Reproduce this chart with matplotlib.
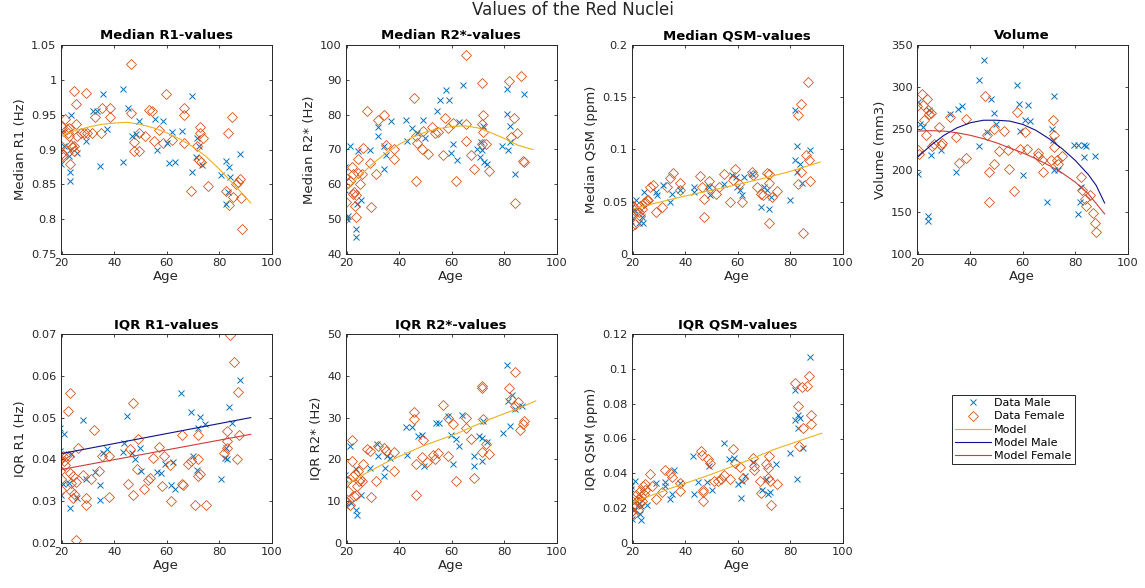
import numpy as np
import matplotlib
matplotlib.use("Agg")
import matplotlib.pyplot as plt
from matplotlib.ticker import FuncFormatter
from matplotlib.lines import Line2D

# ---------------- data ----------------
# Median R1
r1_m_age = [19.4, 19.6, 20, 21, 22.6, 23.2, 23.6, 23.2, 23.2, 25.8, 29.4, 32, 33.5, 34.6, 35.7, 37.4,
            43.5, 43.5, 45.2, 46.8, 48.4, 49.4, 55.5, 56.4, 58.7, 60, 61, 62.2, 63.2, 65.8, 69.7,
            69.7, 71, 71.6, 72.3, 73.5, 80.6, 82.6, 82.6, 83.2, 83.9, 84.2, 88]
r1_m_val = [0.923, 0.879, 0.925, 0.905, 0.890, 0.900, 0.949, 0.855, 0.868, 0.895, 0.912, 0.955, 0.955,
            0.876, 0.979, 0.930, 0.987, 0.882, 0.959, 0.920, 0.922, 0.941, 0.944, 0.900, 0.941, 0.910,
            0.880, 0.925, 0.882, 0.927, 0.977, 0.868, 0.889, 0.917, 0.905, 0.878, 0.864, 0.883, 0.822,
            0.839, 0.875, 0.860, 0.893]
r1_f_age = [20, 19.7, 20, 20.3, 20.6, 21.3, 21.9, 22.3, 22.6, 22.8, 23.5, 23.2, 23.8, 24.5, 24.5, 24.8,
            25.5, 25.5, 26, 27.5, 28.4, 29.4, 29.7, 31.6, 32.6, 34.8, 35.5, 38.3, 38.5, 46.5, 46.5,
            47.7, 47.5, 49.4, 49.4, 51.9, 53.2, 54.2, 55.2, 57.2, 58.7, 59.6, 62, 66.5, 66.5, 66.5,
            69.4, 71.6, 72.5, 72.5, 72.3, 72.9, 73.8, 75.9, 83.2, 84.8, 83.6, 85.2, 87.1, 88, 88.4,
            88.5, 82.6, 86.5]
r1_f_val = [0.932, 0.905, 0.895, 0.889, 0.892, 0.944, 0.929, 0.923, 0.931, 0.920, 0.906, 0.879, 0.903,
            0.984, 0.898, 0.905, 0.965, 0.936, 0.920, 0.923, 0.923, 0.981, 0.923, 0.923, 0.947, 0.923,
            0.959, 0.959, 0.947, 1.023, 0.953, 0.911, 0.898, 0.898, 0.923, 0.919, 0.957, 0.955, 0.912,
            0.928, 0.910, 0.980, 0.913, 0.959, 0.950, 0.909, 0.841, 0.905, 0.932, 0.923, 0.885, 0.882,
            0.917, 0.847, 0.923, 0.947, 0.820, 0.832, 0.853, 0.857, 0.831, 0.786, 0.841, 0.850]
r1_model_age = [20, 25, 30, 35, 40, 45, 50, 55, 60, 65, 70, 75, 80, 85, 90, 92]
r1_model_val = [0.920, 0.927, 0.932, 0.936, 0.938, 0.939, 0.936, 0.931, 0.924, 0.915, 0.904, 0.890,
                0.872, 0.852, 0.832, 0.823]

# Median R2*
r2_m_age = [19.4, 19.4, 20, 20.6, 21.3, 23.4, 23.4, 23.8, 24.2, 25.4, 28.8, 32, 32, 34.1, 34.2, 35.1,
            37, 42.7, 42.9, 44.9, 46.8, 49, 49.8, 54.4, 55.6, 57.8, 58.8, 59.7, 60.5, 61.9, 62.8, 64.3,
            69.7, 70.6, 71, 71.6, 71.9, 72.3, 73.5, 79.2, 81.1, 81.1, 81.5, 82.3, 82.3, 84, 87.4]
r2_m_val = [65, 58.3, 50.1, 51, 70.9, 47.2, 45, 54.4, 69.5, 55.4, 69.8, 76.5, 73.8, 64.5, 70.9, 68.3,
            78.1, 78.6, 72.5, 76.3, 74.8, 78.6, 73.4, 81.1, 84.2, 87.2, 84.2, 69, 71.7, 66.9, 77.9, 88.5,
            70.2, 67.8, 72.2, 69.8, 76.7, 66.4, 65.9, 70.9, 87.5, 80.1, 69.8, 76.7, 72.2, 62.9, 85.9]
r2_f_age = [19.4, 19.4, 19.6, 20.6, 21.3, 22.1, 22.5, 22.5, 22.8, 23.1, 23.4, 23.5, 24.4, 24.4, 25, 25.7,
            26.3, 27.9, 28.8, 29.1, 31.1, 32, 34.1, 35.1, 37.9, 37.9, 45.6, 46.4, 46.2, 46.8, 48.7, 49,
            50.9, 52.5, 53.8, 54.6, 56.5, 57.5, 58.7, 60.3, 61.6, 65.3, 65.3, 65.6, 67.2, 68.5, 71.4,
            71.9, 71.6, 71.6, 71.9, 72.9, 74.2, 82, 82.7, 83.6, 84.9, 84.2, 86.4, 87.1, 87.4]
r2_f_val = [50.1, 62.1, 54.9, 60.4, 61, 65, 63.1, 57.3, 57.8, 53.9, 50.6, 56.8, 63.3, 67.4, 60.2, 62.9,
            70.4, 81.1, 66.1, 53.6, 63.1, 78.4, 79.8, 71.2, 70.1, 67.4, 84.9, 61.1, 73.8, 71.9, 70.1,
            75.2, 68.8, 76.5, 74.6, 75.1, 68.3, 79.1, 76.3, 77.7, 61.1, 97.1, 72.5, 77.4, 68.3, 64.5,
            71.5, 79.8, 89.2, 77.4, 75.0, 71.7, 63.8, 89.7, 73.6, 78.9, 74.6, 54.6, 91.1, 66.6, 66.4]
r2_model_age = [20, 25, 30, 35, 40, 45, 50, 55, 60, 65, 70, 75, 80, 85, 88, 91]
r2_model_val = [58.5, 62.5, 66, 69, 71.5, 73.5, 75, 76, 76.6, 76.8, 76.2, 74.8, 73.2, 71.3, 70.6, 70.0]

# Median QSM
qsm_m_age = [19, 19.2, 19.6, 20.5, 21.3, 22.2, 23.4, 24.1, 23.8, 28.9, 29.4, 31.7, 34.3, 34.9, 38.1,
             43.2, 43.5, 49, 49.6, 54.7, 57.9, 59.2, 59.8, 60.8, 61.7, 62.3, 65.5, 68.7, 70, 71, 71.9,
             72.6, 80, 81.9, 81.7, 82.5, 82.5, 83.8, 84.4, 87.6]
qsm_m_val = [0.0384, 0.032, 0.0448, 0.0422, 0.0512, 0.0294, 0.0358, 0.0592, 0.0294, 0.0592, 0.056,
             0.0656, 0.0496, 0.0576, 0.0608, 0.064, 0.0592, 0.064, 0.056, 0.0672, 0.0752, 0.0736, 0.064,
             0.0608, 0.056, 0.0736, 0.0768, 0.0448, 0.064, 0.0608, 0.0432, 0.055, 0.0512, 0.1376, 0.0896,
             0.103, 0.0784, 0.0864, 0.068, 0.0992]
qsm_f_age = [19, 19.2, 19.4, 20, 20.5, 21, 21.5, 22.2, 22.6, 22.8, 23.4, 24.1, 24.7, 25.4, 26, 26.6,
             27.9, 28.9, 31.1, 33, 34.3, 35.3, 37.9, 38.1, 45.8, 46.4, 47, 47, 49, 49.3, 51.9, 52.8,
             54.7, 57, 58.3, 58.8, 60.4, 61.7, 65.5, 65.9, 67.4, 68.7, 69.7, 71.3, 71.9, 71.9, 71.9,
             73.2, 75.1, 82.8, 84, 86.8, 82.8, 84, 85.9, 87.2, 87.6, 84.7]
qsm_f_val = [0.0486, 0.0256, 0.0352, 0.039, 0.0448, 0.0288, 0.0416, 0.04, 0.0368, 0.0464, 0.0432,
             0.0486, 0.0496, 0.0512, 0.0512, 0.064, 0.0656, 0.04, 0.0454, 0.064, 0.073, 0.0774, 0.0678,
             0.0608, 0.0742, 0.064, 0.0528, 0.0358, 0.0698, 0.0634, 0.0576, 0.064, 0.0762, 0.0496,
             0.071, 0.0816, 0.0672, 0.0496, 0.0784, 0.0752, 0.064, 0.0576, 0.056, 0.0774, 0.0762,
             0.0678, 0.0294, 0.055, 0.0602, 0.1328, 0.144, 0.1648, 0.0672, 0.0784, 0.0944, 0.09,
             0.0698, 0.0198]
qsm_model_age = [20, 30, 40, 50, 60, 70, 80, 91.4]
qsm_model_val = [0.0432, 0.0495, 0.0555, 0.061, 0.0665, 0.0725, 0.079, 0.088]

# Volume
vol_m_age = [20, 20, 21, 21.9, 23.8, 23.8, 24.4, 25, 28.8, 32.3, 34.5, 35.5, 37, 43.3, 43.3, 45.4, 46.4,
             48, 49, 50, 58, 58.4, 59, 60, 61, 62, 62.8, 69.1, 71, 71.9, 71.6, 71.9, 73.5, 79.6, 81.1,
             83.2, 84.2, 83.2, 87.4, 81.7, 81.1, 82.3]
vol_m_val = [282, 196, 256, 252, 146, 140, 272, 218, 224, 268, 198, 274, 277, 308, 229, 332, 246, 285,
             269, 256, 302, 279, 247, 194, 260, 278, 259, 162, 249, 289, 236, 200, 200, 230, 230, 230,
             229, 216, 217, 162, 148, 180]
vol_f_age = [19.7, 20, 20.6, 21.5, 21.9, 22.5, 23.1, 23.5, 23.8, 24.4, 25, 25.4, 26.3, 28.2, 28.8, 29.4,
             32.3, 34.5, 35.7, 38.3, 38.3, 45.8, 46.2, 47, 47, 49, 49.2, 50.9, 53, 54.6, 54.3, 56.8,
             57.8, 59, 61, 61.6, 66, 66, 67.3, 67.7, 70.6, 71.6, 71.9, 71.9, 72.9, 73.5, 74.8, 82.3,
             82.7, 83.6, 84.2, 85.5, 86.7, 87.4, 87.8]
vol_f_val = [277, 224, 220, 291, 278, 260, 242, 286, 272, 268, 269, 229, 232, 252, 230, 233, 264, 240,
             209, 215, 261, 289, 242, 198, 162, 249, 208, 223, 247, 202, 224, 175, 270, 225, 246, 225,
             221, 217, 212, 198, 212, 260, 242, 228, 213, 208, 217, 192, 176, 166, 158, 171, 149, 137,
             126]
vol_male_model_age = [20, 25, 30, 35, 40, 45, 50, 55, 60, 65, 70, 75, 80, 85, 88, 91.2]
vol_male_model_val = [216, 230, 242, 251, 257, 260, 260, 259, 255, 248, 238, 226, 212, 195, 182, 161]
vol_female_model_age = [20, 25, 30, 35, 40, 45, 50, 55, 60, 65, 70, 75, 80, 85, 91.2]
vol_female_model_val = [247, 247.5, 247, 245, 242, 238, 233, 227, 221, 214, 206, 197, 186, 172, 148]

# IQR R1
iqr1_m_age = [19.4, 19.2, 19.6, 20.9, 20.6, 22.6, 23.2, 23.6, 25.8, 28.1, 29.4, 32.5, 34.6, 34.6, 35.9,
              37.4, 43.4, 43.6, 44.9, 46.8, 48.1, 49.7, 50.3, 56.4, 57.8, 59.4, 61.5, 62.3, 63.2, 65.5,
              69.4, 69.9, 71.6, 72, 72.5, 74.6, 80.6, 82.3, 83, 83.9, 84.9, 82.6, 88.1]
iqr1_m_val = [0.0474, 0.042, 0.0314, 0.046, 0.034, 0.0344, 0.0284, 0.0412, 0.0308, 0.0494, 0.0352,
              0.037, 0.0338, 0.0302, 0.0416, 0.0426, 0.0418, 0.044, 0.0504, 0.0416, 0.0402, 0.0428,
              0.0372, 0.037, 0.0368, 0.039, 0.0338, 0.0394, 0.0328, 0.056, 0.0514, 0.0408, 0.0374,
              0.0474, 0.0502, 0.0484, 0.0354, 0.0404, 0.04, 0.0526, 0.0488, 0.0428, 0.059]
iqr1_f_age = [19.2, 19.5, 19.9, 19.9, 20.3, 20.8, 21.4, 21.8, 22.4, 22.8, 23.1, 23.1, 23.4, 23.7, 24.1,
              24.3, 24.6, 25.4, 25.4, 26.3, 28.2, 29.2, 29.2, 31, 32.4, 34.3, 35.2, 38.1, 38.1, 45.4,
              47, 46, 47, 48.8, 49, 51.4, 53, 53.7, 54.9, 56.9, 58.1, 59, 61.1, 61.7, 65.8, 65.8, 66.2,
              68, 69.3, 70.9, 71.8, 71.8, 71.8, 72.8, 75.1, 81.7, 82.8, 83, 83, 84.3, 85.6, 86.8, 87.2,
              87.7]
iqr1_f_val = [0.040, 0.0372, 0.0352, 0.0326, 0.0408, 0.0396, 0.0386, 0.0408, 0.0516, 0.0408, 0.056,
              0.0368, 0.0344, 0.0324, 0.0308, 0.036, 0.0318, 0.0346, 0.0208, 0.0428, 0.0362, 0.0308,
              0.0292, 0.0354, 0.047, 0.0372, 0.0408, 0.0408, 0.031, 0.0342, 0.0534, 0.0424, 0.0316,
              0.0376, 0.0448, 0.033, 0.035, 0.0356, 0.0404, 0.043, 0.0336, 0.0408, 0.0386, 0.030,
              0.0458, 0.034, 0.0338, 0.039, 0.0396, 0.029, 0.0458, 0.040, 0.036, 0.0366, 0.029,
              0.0416, 0.0444, 0.0428, 0.0468, 0.0698, 0.0632, 0.040, 0.0562, 0.0458]
iqr1_male_model_age = [20, 92]
iqr1_male_model_val = [0.0414, 0.050]
iqr1_female_model_age = [20, 92]
iqr1_female_model_val = [0.0376, 0.046]

# IQR R2*
iqr2_m_age = [19.4, 19.4, 19.7, 21.3, 21.6, 23.4, 23.8, 23.4, 25.4, 28.8, 32, 31.6, 34.2, 34.5, 35.5,
              36.4, 42.7, 42.9, 44.8, 47.1, 48.7, 49.6, 54, 55.3, 58.4, 59.7, 60.3, 61.6, 62.8, 64.1,
              68.5, 68.5, 70.4, 71.4, 71.6, 72, 73.5, 79.4, 81.1, 81.5, 82.3, 83, 84.2, 86.7]
iqr2_m_val = [16.2, 15.2, 8.8, 23.2, 9.6, 8, 6.8, 17.6, 11.6, 18, 20.8, 23.6, 16, 18, 20.8, 20.4, 27.8,
              21, 27.8, 25.6, 25.8, 18.4, 28.8, 28.8, 30.4, 25.8, 18.8, 24.8, 23.2, 30.6, 20.8, 18.4,
              25.6, 25.2, 19.6, 29.2, 24.2, 26.4, 42.6, 34, 28, 35.4, 32, 32.8]
iqr2_f_age = [19.4, 19.6, 20, 20.6, 21.3, 21.9, 22.1, 22.5, 22.8, 23.1, 23.5, 23.8, 24.2, 24.7, 25, 25.7,
              26.3, 27.9, 28.8, 29.1, 31.1, 32, 34.2, 35.1, 37.9, 38, 45.6, 45.6, 46.4, 46.4, 48.7, 49,
              50.6, 52.7, 53.8, 54.6, 56.5, 58.4, 58.7, 60.3, 61.6, 65.3, 65.6, 67.2, 68.5, 71.6, 71.6,
              71.6, 71.9, 72.9, 74.2, 82, 82.7, 84.2, 84.2, 85.2, 86.1, 87.1, 87.4]
iqr2_f_val = [10.4, 9.8, 14.8, 12.4, 9, 19.6, 24.6, 16, 11.2, 16.4, 11.6, 13.6, 17.2, 14.8, 15.4, 14.8,
              18.8, 22.4, 22, 11, 14.8, 23.2, 22.8, 22, 21.8, 17.2, 31.4, 29.6, 11.6, 19, 20.6, 24.6,
              19.4, 21, 20, 21.6, 33, 29.8, 20.8, 28.4, 14.8, 30, 27.6, 24.8, 15.6, 21.8, 37.6, 37,
              29.6, 23.6, 21.4, 37.2, 34.4, 32.8, 41, 33.8, 27, 28.4, 29.2]
iqr2_model_age = [20, 24, 30, 36, 49, 62, 74, 87, 92]
iqr2_model_val = [14.0, 15.6, 17.6, 19.6, 23.2, 26.2, 29.5, 32.6, 34.0]

# IQR QSM
iqrq_m_age = [19.2, 19.4, 19.6, 20.3, 20.9, 22.2, 22.8, 23.2, 23.2, 25.4, 29, 32.1, 32.1, 34.1, 35, 35.6,
              37.9, 43.1, 43.3, 45, 48.2, 49.1, 50.1, 54.9, 56.8, 58.7, 60, 61.3, 61.7, 62.6, 65.8,
              69.2, 70.9, 71.5, 72.2, 74.4, 79.9, 82, 81.8, 82.4, 82.8, 83.1, 83.7, 84.7, 87.6]
iqrq_m_val = [0.0326, 0.0311, 0.0138, 0.0192, 0.0355, 0.023, 0.0169, 0.013, 0.0211, 0.0221, 0.0346,
              0.035, 0.033, 0.025, 0.0282, 0.0422, 0.0346, 0.0499, 0.0284, 0.035, 0.035, 0.0442, 0.0303,
              0.0576, 0.0484, 0.049, 0.0336, 0.0259, 0.0355, 0.0384, 0.0465, 0.0307, 0.0365, 0.0284,
              0.0292, 0.0451, 0.0518, 0.0877, 0.0706, 0.0369, 0.0733, 0.0662, 0.072, 0.0547, 0.1066]
iqrq_f_age = [19, 19.2, 19.6, 20, 20.3, 20.6, 21.3, 21.5, 21.9, 22.2, 22.6, 22.8, 23.1, 23.5, 23.8, 24.1,
              24.5, 24.7, 26.4, 27.3, 29, 31.2, 32.2, 34.1, 35, 37.9, 37.9, 45.9, 46.2, 46.9, 46.9,
              46.9, 48.8, 49.5, 51, 52.6, 53.6, 54.9, 58.1, 57.2, 59, 61, 61.9, 65.8, 66.2, 66.2, 68.3,
              69, 70.9, 71.5, 71.8, 71.5, 72.2, 72.8, 75.1, 82, 83.1, 83.3, 84.4, 85, 86.3, 87.2, 88, 88]
iqrq_f_val = [0.0234, 0.0177, 0.0182, 0.025, 0.0169, 0.0211, 0.0278, 0.024, 0.0192, 0.025, 0.023,
              0.0298, 0.0269, 0.024, 0.0326, 0.0284, 0.0307, 0.0336, 0.0394, 0.0326, 0.025, 0.0292,
              0.0422, 0.0403, 0.038, 0.0346, 0.0298, 0.0528, 0.0503, 0.0292, 0.024, 0.0307, 0.048,
              0.0461, 0.0355, 0.0355, 0.0365, 0.0388, 0.0538, 0.0365, 0.0457, 0.0438, 0.0374, 0.049,
              0.0442, 0.0422, 0.0355, 0.0288, 0.0451, 0.0432, 0.0499, 0.0374, 0.0355, 0.0221, 0.0336,
              0.0918, 0.0787, 0.0557, 0.0893, 0.0662, 0.0902, 0.096, 0.0733, 0.0682]
iqrq_model_age = [20, 35, 48, 61, 74, 87, 92]
iqrq_model_val = [0.0234, 0.0317, 0.0384, 0.0457, 0.0538, 0.0605, 0.063]

titles = ["Median R1-values", "Median R2*-values", "Median QSM-values", "Volume",
          "IQR R1-values", "IQR R2*-values", "IQR QSM-values"]
ylabels = ["Median R1 (Hz)", "Median R2* (Hz)", "Median QSM (ppm)", "Volume (mm3)",
           "IQR R1 (Hz)", "IQR R2* (Hz)", "IQR QSM (ppm)"]
yticks_list = [[0.75, 0.8, 0.85, 0.9, 0.95, 1.0, 1.05],
               [40, 50, 60, 70, 80, 90, 100],
               [0, 0.05, 0.1, 0.15, 0.2],
               [100, 150, 200, 250, 300, 350],
               [0.02, 0.03, 0.04, 0.05, 0.06, 0.07],
               [0, 10, 20, 30, 40, 50],
               [0, 0.02, 0.04, 0.06, 0.08, 0.1, 0.12]]
xticks = [20, 40, 60, 80, 100]

# ---------------- styling ----------------
C_MALE = "#0072BD"
C_FEMALE = "#D95319"
C_MODEL = "#EDB120"
C_MODEL_M = "#10108a"
C_MODEL_F = "#d03a3a"
AX_COL = "#262626"

plt.rcParams["font.family"] = "DejaVu Sans"

W, H = 1145, 588
fig = plt.figure(figsize=(W / 100, H / 100), dpi=100)

col_left = [60.7, 345.7, 631.7, 916.7]
row_top = [45, 334]
aw, ah = 211, 209

panels = [
    (r1_m_age, r1_m_val, r1_f_age, r1_f_val, [(r1_model_age, r1_model_val, C_MODEL)]),
    (r2_m_age, r2_m_val, r2_f_age, r2_f_val, [(r2_model_age, r2_model_val, C_MODEL)]),
    (qsm_m_age, qsm_m_val, qsm_f_age, qsm_f_val, [(qsm_model_age, qsm_model_val, C_MODEL)]),
    (vol_m_age, vol_m_val, vol_f_age, vol_f_val,
     [(vol_male_model_age, vol_male_model_val, C_MODEL_M),
      (vol_female_model_age, vol_female_model_val, C_MODEL_F)]),
    (iqr1_m_age, iqr1_m_val, iqr1_f_age, iqr1_f_val,
     [(iqr1_male_model_age, iqr1_male_model_val, C_MODEL_M),
      (iqr1_female_model_age, iqr1_female_model_val, C_MODEL_F)]),
    (iqr2_m_age, iqr2_m_val, iqr2_f_age, iqr2_f_val, [(iqr2_model_age, iqr2_model_val, C_MODEL)]),
    (iqrq_m_age, iqrq_m_val, iqrq_f_age, iqrq_f_val, [(iqrq_model_age, iqrq_model_val, C_MODEL)]),
]

fmt = FuncFormatter(lambda v, p: f"{v:g}")

MK_X = dict(linestyle="none", marker="x", color=C_MALE, markersize=4.6, markeredgewidth=0.7)
MK_D = dict(linestyle="none", marker="D", markerfacecolor="none", markeredgecolor=C_FEMALE,
            markersize=4.8, markeredgewidth=0.6)

for i, (ma, mv, fa, fv, models) in enumerate(panels):
    r, c = divmod(i, 4)
    left = col_left[c] / W
    bottom = 1 - (row_top[r] + ah) / H
    ax = fig.add_axes([left, bottom, aw / W, ah / H])
    ax.plot(ma, mv, **MK_X)
    ax.plot(fa, fv, **MK_D)
    for xa, ya, col in models:
        ax.plot(xa, ya, color=col, linewidth=0.8)
    yt = yticks_list[i]
    ax.set_xlim(19.6, 100)
    ax.set_ylim(yt[0], yt[-1])
    ax.set_xticks(xticks)
    ax.set_yticks(yt)
    ax.xaxis.set_major_formatter(fmt)
    ax.yaxis.set_major_formatter(fmt)
    ax.tick_params(direction="in", length=2.5, width=0.6, colors=AX_COL, labelsize=8.2,
                   top=True, right=True, pad=3)
    for s in ax.spines.values():
        s.set_color(AX_COL)
        s.set_linewidth(0.7)
    ax.set_title(titles[i], fontsize=9.5, fontweight="bold", pad=4, color="black")
    ax.set_xlabel("Age", fontsize=9.5, color=AX_COL, labelpad=1)
    ax.set_ylabel(ylabels[i], fontsize=9.5, color=AX_COL, labelpad=3)

fig.suptitle("Values of the Red Nuclei", fontsize=12, y=1 - 10 / H, va="center", color=AX_COL)

handles = [
    Line2D([], [], **MK_X),
    Line2D([], [], **MK_D),
    Line2D([], [], color=C_MODEL, linewidth=0.8),
    Line2D([], [], color=C_MODEL_M, linewidth=0.8),
    Line2D([], [], color=C_MODEL_F, linewidth=0.8),
]
labels = ["Data Male", "Data Female", "Model", "Model Male", "Model Female"]
leg = fig.legend(handles, labels, loc="upper left", bbox_to_anchor=(952 / W, 1 - 395 / H),
                 fontsize=8, frameon=True, fancybox=False, framealpha=1, edgecolor=AX_COL,
                 handlelength=3.2, handletextpad=0.3, labelspacing=0.28, borderpad=0.3,
                 borderaxespad=0)
leg.get_frame().set_linewidth(0.7)

fig.savefig("out.png", dpi=100)
